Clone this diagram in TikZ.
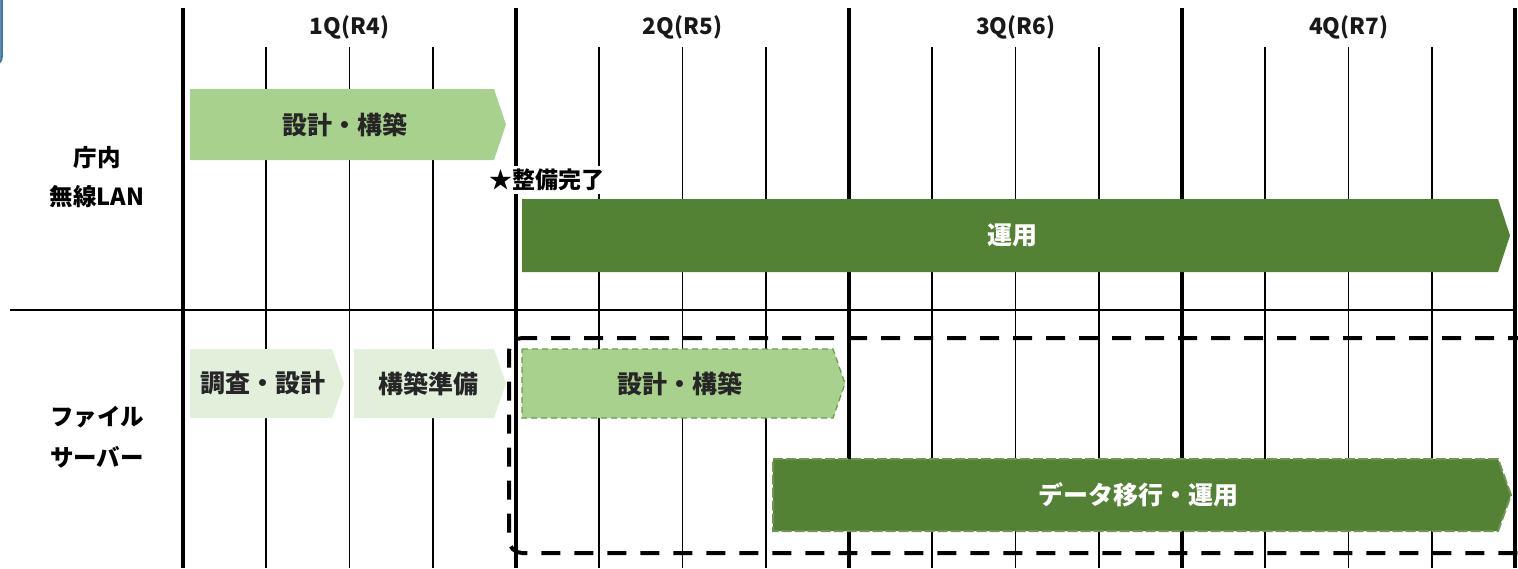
\documentclass[tikz,border=0pt]{standalone}
\usepackage{fontspec}
\setmainfont{Noto Sans CJK JP}
\definecolor{lightg}{HTML}{A9D18E}
\definecolor{paleg}{HTML}{E2EFDA}
\definecolor{darkg}{HTML}{548235}
\definecolor{dashg}{HTML}{6A9C4A}
\definecolor{blueedge}{HTML}{41719C}
\definecolor{bluefill}{HTML}{5B8DB8}
\tikzset{
  gridthick/.style={line width=4.5pt, black},
  gridthin/.style={line width=1.8pt, black},
  hdr/.style={font=\fontsize{22.5}{26}\selectfont\bfseries, text=black!90},
  rowlbl/.style={font=\fontsize{23.5}{27}\selectfont\bfseries, text=black, align=center},
  bartxt/.style={font=\fontsize{25}{29}\selectfont\bfseries, text=black!85},
  bartxtw/.style={font=\fontsize{25}{29}\selectfont\bfseries, text=white},
  marktxt/.style={font=\fontsize{23}{27}\selectfont\bfseries, fill=white, inner xsep=0pt, inner ysep=3pt},
  palebar/.style={fill=paleg},
  lightbar/.style={fill=lightg},
  darkbar/.style={fill=darkg},
  lightdash/.style={fill=lightg, draw=dashg, line width=1.3pt, dash pattern=on 6pt off 4pt},
  darkdash/.style={fill=darkg, draw=darkg!85!white, line width=2pt, dash pattern=on 10pt off 3pt},
  bigdash/.style={draw=black, line width=4pt, dash pattern=on 19pt off 14pt, rounded corners=13pt},
}
\newcommand\chev[6]{\path[#1] (#2,#3) -- ({#4-#6},#3) -- (#4,{(#3+#5)/2}) -- ({#4-#6},#5) -- (#2,#5) -- cycle;}
\begin{document}
\begin{tikzpicture}[x=1pt,y=-1pt]
\useasboundingbox (0,0) rectangle (1518,568);
\clip (0,0) rectangle (1518,568);
% blue sliver at left edge
\filldraw[fill=bluefill, draw=blueedge, line width=1.5pt, rounded corners=8pt] (-60,-20) rectangle (2,65);
% grid
\foreach \x in {183,516,849,1182} {
  \foreach \k in {83.25,166.5,249.75} {
    \draw[gridthin] ({\x+\k},47) -- ({\x+\k},568);
  }
}
\foreach \x in {183,516,849,1182,1515} {
  \draw[gridthick] (\x,8) -- (\x,568);
}
\draw[gridthin] (10,310) -- (1515,310);
% headers
\node[hdr] (q1) at (349.5,27) {1Q(R4)};
\node[hdr] (q2) at (682.5,27) {2Q(R5)};
\node[hdr] (q3) at (1015.5,27) {3Q(R6)};
\node[hdr] (q4) at (1348.5,27) {4Q(R7)};
% row labels
\node[rowlbl] (r1a) at (97,158) {庁内};
\node[rowlbl] (r1b) at (97,197) {無線LAN};
\node[rowlbl] (r2a) at (97,417) {ファイル};
\node[rowlbl] (r2b) at (97,457) {サーバー};
% bars row 1
\chev{lightbar}{190}{89}{506}{160}{12}
\node[bartxt] (b1) at (345,124.5) {設計・構築};
\chev{darkbar}{522}{199}{1510}{272}{12}
\node[bartxtw] (b2) at (1012,235.5) {運用};
\node[marktxt, anchor=west] (done) at (489,180) {★整備完了};
% dashed bracket box
\draw[bigdash] (1560,338) -- (509,338) -- (509,553) -- (1560,553);
% bars row 2
\chev{palebar}{190}{349}{344}{418}{12}
\node[bartxt] (b3) at (263,383.5) {調査・設計};
\chev{palebar}{354}{349}{506}{418}{12}
\node[bartxt] (b4) at (428,383.5) {構築準備};
\chev{lightdash}{522}{349}{845}{418}{12}
\node[bartxt] (b5) at (680,383.5) {設計・構築};
\chev{darkdash}{773}{459}{1511}{531}{13}
\node[bartxtw] (b6) at (1138,495) {データ移行・運用};
\end{tikzpicture}
\end{document}
